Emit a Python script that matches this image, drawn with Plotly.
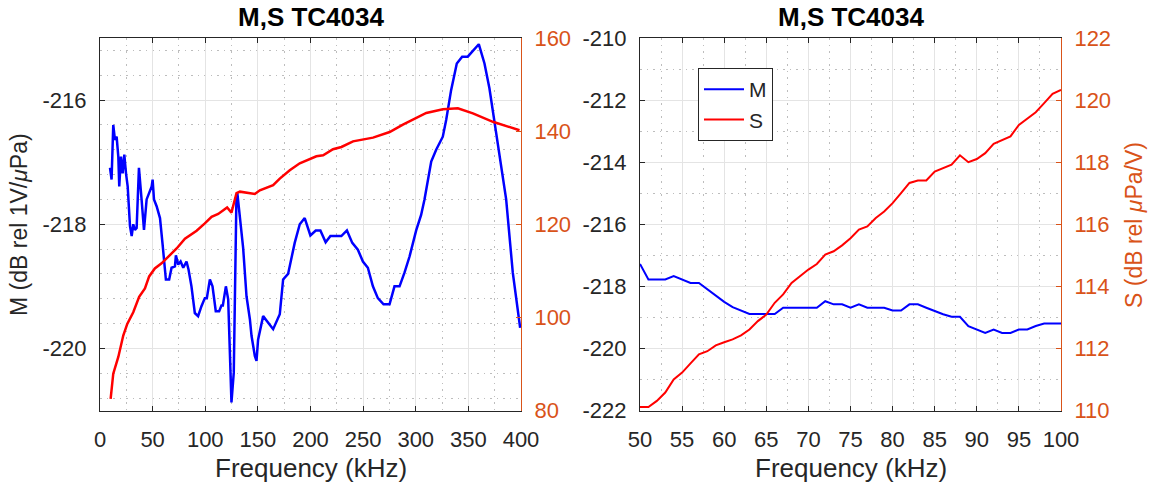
import plotly.graph_objects as go

# ---------------- data ----------------
# Left panel: wide band (kHz)
f_M_wide = [9.5, 11, 12.6, 14.2, 15.8, 17.4, 18.3, 19.9, 21.5, 23.1, 24.7, 26.3, 28.5, 30.1, 31.6,
            33.2, 34.8, 37, 39.5, 41.8, 44.3, 46.8, 49.1, 50, 51.3, 53.8, 57, 59.5, 62.6, 65.7,
            68, 71.2, 72.1, 74.3, 76.6, 79.1, 80.7, 82.2, 84.1, 86.9, 90.1, 93.2, 96.4, 99.6,
            101.5, 104.4, 106.9, 110, 113.2, 115.4, 116.7, 119.6, 121.8, 124.9, 127.1, 129.6,
            130.5, 132.9, 136, 139.2, 142.4, 144, 147.1, 148.7, 150.2, 155, 164.5, 170.8, 174,
            178.7, 185, 189.8, 194.5, 199.9, 205, 209.4, 214.4, 218.9, 229.3, 234.6, 239.7, 245,
            249.8, 254.5, 259.3, 264, 269.4, 275.1, 279.8, 284.6, 289.3, 294.1, 300.4, 305.1,
            308.3, 314.7, 319.4, 325.7, 328.9, 333.6, 339, 344.1, 349.4, 359.9, 365.3, 370,
            376.4, 382.7, 385.9, 392.2, 399.2]
M_wide = [-217.09, -217.28, -216.40, -216.64, -216.59, -216.91, -217.39, -216.91, -217.18, -216.88,
          -217.18, -217.39, -218.03, -218.19, -218.0, -218.09, -218.06, -217.09, -217.6, -218.09,
          -217.6, -217.5, -217.39, -217.28, -217.6, -217.71, -217.9, -218.33, -218.89, -218.89,
          -218.70, -218.68, -218.5, -218.65, -218.6, -218.70, -218.65, -218.6, -218.73, -219.0,
          -219.43, -219.48, -219.32, -219.19, -219.19, -218.89, -219.0, -219.40, -219.40, -219.31,
          -219.31, -219.0, -219.21, -220.87, -220.39, -217.6, -217.5, -217.93, -218.38, -219.16,
          -219.53, -219.8, -220.12, -220.2, -219.86, -219.48, -219.69, -219.45, -218.89, -218.8,
          -218.30, -218.0, -217.9, -218.18, -218.1, -218.1, -218.29, -218.19, -218.19, -218.1,
          -218.30, -218.41, -218.6, -218.7, -219.0, -219.19, -219.29, -219.29, -219.0, -219.0,
          -218.78, -218.52, -218.1, -217.85, -217.6, -216.99, -216.80, -216.59, -216.32, -215.84,
          -215.41, -215.30, -215.30, -215.10, -215.41, -215.81, -216.53, -217.28, -217.6, -218.78,
          -219.67]

f_S_wide = [10.1, 12.6, 17.4, 22.1, 25.9, 31.6, 37.2, 42.7, 46.7, 52.1, 58.5, 64.8, 72.8, 80.7,
            91.8, 99.6, 106, 112.3, 120.8, 124.9, 129.7, 132.9, 147.1, 151.9, 164.5, 170.8, 180.3,
            189.8, 205.6, 212, 221.4, 229.4, 240.4, 259.4, 275.2, 287.8, 300.5, 310, 325.8, 340,
            354.3, 373.3, 398.6]
S_wide = [82.5, 87.9, 91.5, 96.1, 98.6, 101.1, 104.4, 106.2, 108.8, 110.5, 111.6, 113.0, 114.8,
          116.9, 118.6, 120.2, 121.6, 122.2, 123.6, 122.5, 126.7, 127.0, 126.5, 127.3, 128.4,
          129.8, 131.6, 133.1, 134.6, 134.8, 136.1, 136.6, 137.8, 138.6, 139.8, 141.4, 142.9,
          143.9, 144.7, 144.9, 143.8, 142.0, 140.2]

# Right panel: 50-100 kHz
f_zoom = list(range(50, 101))
M_zoom = [-217.28, -217.78, -217.78, -217.78, -217.67, -217.78, -217.89, -217.89, -218.1, -218.3,
          -218.5, -218.67, -218.78, -218.89, -218.89, -218.89, -218.89, -218.69, -218.69, -218.69,
          -218.69, -218.69, -218.48, -218.58, -218.58, -218.69, -218.58, -218.69, -218.69, -218.69,
          -218.78, -218.78, -218.58, -218.58, -218.69, -218.8, -218.9, -218.98, -218.98, -219.28,
          -219.39, -219.5, -219.39, -219.5, -219.5, -219.39, -219.39, -219.28, -219.2, -219.2,
          -219.2]
S_zoom = [110.11, 110.11, 110.31, 110.58, 111.0, 111.22, 111.52, 111.81, 111.91, 112.1, 112.2,
          112.29, 112.42, 112.61, 112.88, 113.09, 113.47, 113.74, 114.11, 114.33, 114.54, 114.72,
          115.02, 115.13, 115.32, 115.55, 115.83, 115.93, 116.2, 116.41, 116.68, 117.0, 117.33,
          117.41, 117.41, 117.7, 117.81, 117.92, 118.22, 118.0, 118.1, 118.29, 118.59, 118.72,
          118.83, 119.2, 119.42, 119.61, 119.9, 120.2, 120.33]

# tick labels (plain hyphen minus, as in the original)
yticks_M_wide = [-220, -218, -216]
yticks_M_zoom = [-222, -220, -218, -216, -214, -212, -210]

title_text = "M,S TC4034"
xlabel = "Frequency (kHz)"
ylabel_M = "M (dB rel 1V/<i>μ</i>Pa)"
ylabel_S = "S (dB rel <i>μ</i>Pa/V)"

# ---------------- style ----------------
W, H = 1153, 491
FONT = "Liberation Sans, Arial, Helvetica, sans-serif"
DARK = "#262626"
ORANGE = "#D95319"
GRID = "#E4E4E4"
MINOR = "#BDBDBD"
BLUE = "#0000FF"
RED = "#FF0000"

def px_x(p):
    return p / W

def px_y(p):
    return 1 - p / H

ydom = [px_y(410.5), px_y(38)]

fig = go.Figure()
fig.add_trace(go.Scatter(x=f_M_wide, y=M_wide, mode="lines", line=dict(color=BLUE, width=2.5),
                         xaxis="x", yaxis="y", name="M", showlegend=False))
fig.add_trace(go.Scatter(x=f_S_wide, y=S_wide, mode="lines", line=dict(color=RED, width=2.5),
                         xaxis="x", yaxis="y2", name="S", showlegend=False))
fig.add_trace(go.Scatter(x=f_zoom, y=M_zoom, mode="lines", line=dict(color=BLUE, width=2),
                         xaxis="x2", yaxis="y3", name="M"))
fig.add_trace(go.Scatter(x=f_zoom, y=S_zoom, mode="lines", line=dict(color=RED, width=2),
                         xaxis="x2", yaxis="y4", name="S"))

tickfont = dict(family=FONT, size=22, color=DARK)
otickfont = dict(family=FONT, size=22, color=ORANGE)
DOT = "1.5px,5px"

def xax(dom, rng, dt, mdt, anchor):
    return dict(domain=dom, range=rng, dtick=dt, tick0=rng[0], anchor=anchor, automargin=False,
                ticks="inside", ticklen=5, tickcolor=DARK, showline=True, linecolor=DARK,
                linewidth=1, mirror="ticks", showgrid=True, gridcolor=GRID, zeroline=False,
                tickfont=tickfont, ticklabelstandoff=9,
                minor=dict(dtick=mdt, tick0=rng[0], showgrid=True, gridcolor=MINOR,
                           griddash=DOT, ticks=""))

def yax(rng, tv, mdt, anchor):
    return dict(domain=ydom, range=rng, tickmode="array", tickvals=tv,
                ticktext=[str(v) for v in tv], anchor=anchor, automargin=False,
                ticks="inside", ticklen=5, tickcolor=DARK, showline=True, linecolor=DARK,
                linewidth=1, showgrid=True, gridcolor=GRID, zeroline=False,
                tickfont=tickfont, ticklabelstandoff=8,
                minor=dict(dtick=mdt, tick0=tv[0], showgrid=True, gridcolor=MINOR,
                           griddash=DOT, ticks=""))

def y2ax(rng, dt, over, anchor):
    return dict(domain=ydom, range=rng, dtick=dt, tick0=rng[0], overlaying=over, side="right",
                anchor=anchor, automargin=False, ticks="inside", ticklen=5, tickcolor=ORANGE,
                showline=True, linecolor=ORANGE, linewidth=1, showgrid=False, zeroline=False,
                tickfont=otickfont, ticklabelstandoff=8)

fig.update_layout(
    width=W, height=H,
    margin=dict(l=0, r=0, t=0, b=0, autoexpand=False),
    paper_bgcolor="white", plot_bgcolor="white",
    font=dict(family=FONT, color=DARK),
    xaxis=xax([px_x(100), px_x(521)], [0, 400], 50, 25, "y"),
    yaxis=yax([-221, -215], yticks_M_wide, 0.4, "x"),
    yaxis2=y2ax([80, 160], 20, "y", "x"),
    xaxis2=xax([px_x(640), px_x(1061)], [50, 100], 5, 2.5, "y3"),
    yaxis3=yax([-222, -210], yticks_M_zoom, 1, "x2"),
    yaxis4=y2ax([110, 122], 2, "y3", "x2"),
    legend=dict(x=px_x(698), y=px_y(68), xanchor="left", yanchor="top",
                bgcolor="white", bordercolor=DARK, borderwidth=1,
                font=dict(family=FONT, size=21, color=DARK), itemwidth=40,
                tracegroupgap=0),
    showlegend=True,
)

ann = []
for cx in [(100 + 521) / 2, (640 + 1061) / 2]:
    ann.append(dict(text="<b>" + title_text + "</b>", x=px_x(cx), y=px_y(17), xref="paper",
                    yref="paper", showarrow=False, xanchor="center", yanchor="middle",
                    font=dict(family=FONT, size=26, color="black")))
    ann.append(dict(text=xlabel, x=px_x(cx), y=px_y(468), xref="paper", yref="paper",
                    showarrow=False, xanchor="center", yanchor="middle",
                    font=dict(family=FONT, size=26, color=DARK)))
ann.append(dict(text=ylabel_M, x=px_x(19), y=px_y(225), xref="paper", yref="paper",
                showarrow=False, xanchor="center", yanchor="middle", textangle=-90,
                font=dict(family=FONT, size=23, color=DARK)))
ann.append(dict(text=ylabel_S, x=px_x(1134), y=px_y(225), xref="paper", yref="paper",
                showarrow=False, xanchor="center", yanchor="middle", textangle=-90,
                font=dict(family=FONT, size=23, color=ORANGE)))
fig.update_layout(annotations=ann)

fig.write_html("out.html", config={"displayModeBar": False},
               post_script="document.body.style.margin='0';document.body.style.overflow='hidden';")
